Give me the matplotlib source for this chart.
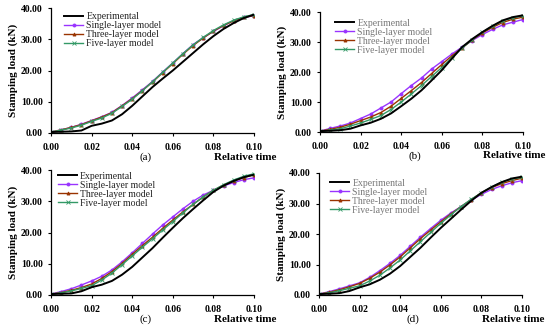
import matplotlib
matplotlib.use("Agg")
import matplotlib.pyplot as plt
import numpy as np

plt.rcParams['font.family'] = ['Liberation Serif', 'DejaVu Serif']

time = [0.000, 0.005, 0.010, 0.015, 0.020, 0.025, 0.030, 0.035, 0.040, 0.045,
        0.050, 0.055, 0.060, 0.065, 0.070, 0.075, 0.080, 0.085, 0.090, 0.095, 0.100]

series_names = ["Experimental", "Single-layer model", "Three-layer model", "Five-layer model"]
panel_labels = ["(a)", "(b)", "(c)", "(d)"]
yticks = [0, 10, 20, 30, 40]
xticks = [0.00, 0.02, 0.04, 0.06, 0.08, 0.10]

a_exp    = [0.3, 0.4, 0.5, 0.8, 2.3, 3.0, 4.0, 6.0, 8.7, 11.7, 14.7, 17.4, 20.0, 22.8, 25.6, 28.4, 31.0, 33.3, 35.2, 36.8, 37.9]
a_single = [0.3, 1.0, 1.8, 2.8, 4.0, 5.2, 6.6, 8.8, 11.2, 13.8, 16.5, 19.5, 22.4, 25.4, 28.3, 30.5, 32.5, 34.3, 36.0, 37.0, 37.5]
a_three  = [0.3, 1.0, 1.8, 2.7, 3.9, 5.1, 6.5, 8.7, 11.0, 13.6, 16.3, 19.3, 22.2, 25.2, 28.0, 30.4, 32.6, 34.4, 35.9, 37.0, 37.6]
a_five   = [0.3, 0.9, 1.6, 2.5, 3.7, 4.8, 6.3, 8.5, 10.8, 13.5, 16.4, 19.4, 22.4, 25.4, 28.2, 30.6, 32.8, 34.6, 36.1, 37.2, 37.9]

b_exp    = [0.3, 0.4, 0.6, 1.1, 2.2, 3.1, 4.4, 6.2, 8.6, 11.1, 13.9, 17.2, 20.6, 24.5, 28.3, 31.0, 33.3, 35.4, 37.2, 38.3, 38.9]
b_single = [0.3, 1.2, 2.0, 3.0, 4.5, 6.0, 8.0, 10.0, 12.8, 15.5, 18.0, 21.0, 23.5, 26.0, 28.3, 30.5, 32.5, 34.2, 35.7, 36.6, 37.5]
b_three  = [0.3, 0.9, 1.6, 2.6, 3.8, 5.0, 6.5, 8.6, 11.2, 13.8, 16.5, 19.5, 22.5, 25.4, 28.0, 30.7, 33.0, 34.9, 36.5, 37.6, 38.3]
b_five   = [0.3, 0.6, 1.1, 2.0, 3.0, 4.2, 5.5, 7.5, 10.0, 12.7, 15.5, 18.5, 21.5, 24.8, 28.0, 30.8, 33.3, 35.3, 37.0, 38.1, 38.7]

c_exp    = [0.3, 0.4, 0.5, 1.2, 2.5, 3.3, 4.5, 6.5, 9.0, 12.0, 15.0, 18.3, 21.5, 24.6, 27.5, 30.3, 33.0, 35.0, 36.5, 37.7, 38.5]
c_single = [0.3, 1.1, 2.0, 3.2, 4.5, 6.0, 8.0, 10.6, 13.5, 16.5, 19.5, 22.4, 25.0, 27.6, 30.0, 32.0, 33.5, 34.9, 36.0, 36.9, 37.5]
c_three  = [0.3, 0.8, 1.5, 2.4, 3.5, 5.3, 7.5, 10.1, 13.0, 15.8, 18.5, 21.3, 24.0, 26.6, 29.0, 31.4, 33.5, 35.2, 36.5, 37.6, 38.5]
c_five   = [0.3, 0.7, 1.3, 2.1, 3.0, 4.8, 7.0, 9.7, 12.5, 15.3, 18.0, 20.8, 23.5, 26.3, 29.0, 31.4, 33.5, 35.3, 36.8, 38.0, 38.8]

d_exp    = [0.3, 0.4, 0.6, 1.3, 2.5, 3.5, 5.0, 7.0, 9.5, 12.5, 15.5, 18.8, 22.0, 25.0, 28.0, 30.9, 33.5, 35.4, 37.0, 38.2, 38.8]
d_single = [0.3, 1.1, 2.0, 3.0, 4.0, 5.8, 8.0, 10.4, 13.0, 16.0, 19.0, 21.8, 24.5, 26.9, 29.0, 31.1, 33.0, 34.6, 35.8, 36.8, 37.5]
d_three  = [0.3, 0.9, 1.7, 2.7, 3.8, 5.5, 7.5, 9.9, 12.5, 15.5, 18.5, 21.3, 24.0, 26.6, 29.0, 31.3, 33.5, 35.2, 36.5, 37.5, 38.3]
d_five   = [0.3, 0.7, 1.4, 2.2, 3.0, 4.6, 6.5, 8.9, 11.5, 14.5, 17.5, 20.5, 23.5, 26.3, 29.0, 31.4, 33.5, 35.4, 37.0, 38.0, 38.6]

panels = [
    (a_exp, a_single, a_three, a_five),
    (b_exp, b_single, b_three, b_five),
    (c_exp, c_single, c_three, c_five),
    (d_exp, d_single, d_three, d_five),
]

colors = ["#000000", "#9933ff", "#993300", "#339966"]
markers = [None, "o", "^", "x"]

positions = [
    [51/550, (334-133)/334, 203/550, 125/334],
    [320/550, (334-132)/334, 203/550, 120/334],
    [51/550, (334-295)/334, 203/550, 125/334],
    [319/550, (334-295)/334, 203/550, 122/334],
]
legend_anchor = [(0.03, 1.02), (0.04, 1.0), (0.0, 1.04), (0.02, 1.01)]
legend_colors = ["#222222", "#777777", "#222222", "#777777"]

fig = plt.figure(figsize=(5.5, 3.34), dpi=100)
for i, (pos, data) in enumerate(zip(positions, panels)):
    ax = fig.add_axes(pos)
    for j, ys in enumerate(data):
        if markers[j] is None:
            ax.plot(time, ys, color=colors[j], lw=1.4, label=series_names[j], zorder=5)
        else:
            ax.plot(time, ys, color=colors[j], lw=1.0, marker=markers[j], ms=2.2,
                    mew=0.6, label=series_names[j])
    ax.set_xlim(0, 0.1)
    ax.set_ylim(0, 40)
    ax.set_xticks(xticks)
    ax.set_yticks(yticks)
    ax.set_xticklabels([f"{v:.2f}" for v in xticks], fontweight='bold', fontsize=7)
    ax.set_yticklabels([f"{v:.2f}" for v in yticks], fontweight='bold', fontsize=7)
    ax.tick_params(axis='x', direction='out', length=2, width=0.8, pad=5)
    ax.tick_params(axis='y', direction='out', length=2, width=0.8, pad=4)
    for s in ['top', 'right']:
        ax.spines[s].set_visible(False)
    for s in ['left', 'bottom']:
        ax.spines[s].set_linewidth(0.9)
    ax.set_ylabel("Stamping load (kN)", fontweight='bold', fontsize=8, labelpad=2)
    h = pos[3] * 334
    yoff = -24.0 / h
    ax.text(0.465, yoff, panel_labels[i], transform=ax.transAxes, ha='center', va='center', fontsize=8)
    ax.text(1.11, yoff, "Relative time", transform=ax.transAxes, ha='right', va='center',
            fontsize=8, fontweight='bold')
    leg = ax.legend(loc='upper left', bbox_to_anchor=legend_anchor[i], frameon=False,
                    fontsize=7, handlelength=2.0, labelspacing=0.0, borderpad=0.2,
                    handletextpad=0.3)
    for t in leg.get_texts():
        t.set_color(legend_colors[i])

fig.savefig("out.png", dpi=100)
